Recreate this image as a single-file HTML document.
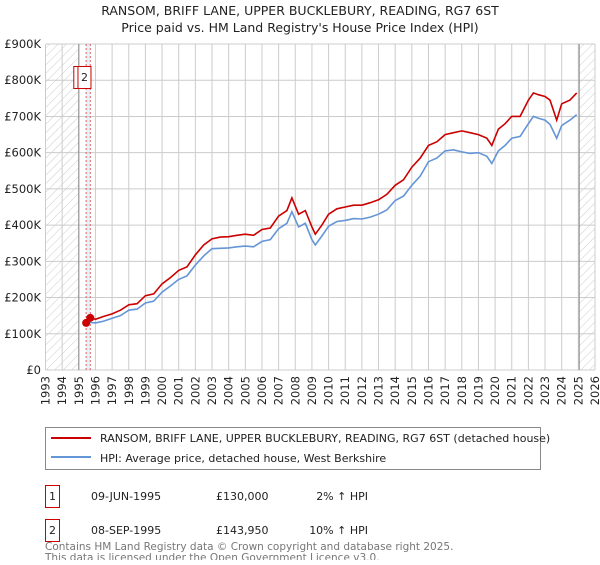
<!DOCTYPE html>
<html><head><meta charset="utf-8"><style>
body{margin:0;width:600px;height:560px;background:#fff;font-family:"Liberation Sans","DejaVu Sans",sans-serif;overflow:hidden}
svg text{font-family:"DejaVu Sans","Liberation Sans",sans-serif}
</style></head><body>
<svg id="c" width="600" height="560" xmlns="http://www.w3.org/2000/svg">
<defs><pattern id="hatch" width="6" height="6" patternUnits="userSpaceOnUse" patternTransform="rotate(45)"><line x1="0" y1="0" x2="0" y2="6" stroke="#ccc" stroke-width="1"/></pattern></defs>
<text x="300" y="15" text-anchor="middle" font-size="12.5" fill="#222">RANSOM, BRIFF LANE, UPPER BUCKLEBURY, READING, RG7 6ST</text>
<text x="300" y="32" text-anchor="middle" font-size="12.5" fill="#222">Price paid vs. HM Land Registry's House Price Index (HPI)</text>
<g id="grid"></g><g id="marks"></g><g id="axes"></g>
<g>
<rect x="45.5" y="427.5" width="495" height="42" fill="#fff" stroke="#888"/>
<line x1="51" y1="438" x2="91" y2="438" stroke="#cc0000" stroke-width="2"/>
<text x="100" y="442" font-size="11" fill="#222">RANSOM, BRIFF LANE, UPPER BUCKLEBURY, READING, RG7 6ST (detached house)</text>
<line x1="51" y1="457" x2="91" y2="457" stroke="#6495d6" stroke-width="2"/>
<text x="100" y="462" font-size="11" fill="#222">HPI: Average price, detached house, West Berkshire</text>
</g>
<g font-size="11" fill="#222">
<rect x="45.5" y="485.5" width="14" height="22" fill="none" stroke="#cc0000"/>
<text x="52.5" y="500" text-anchor="middle">1</text>
<text x="91" y="500">09-JUN-1995</text>
<text x="216" y="500">£130,000</text>
<text x="368" y="500" text-anchor="end">2% ↑ HPI</text>
<rect x="45.5" y="519.5" width="14" height="22" fill="none" stroke="#cc0000"/>
<text x="52.5" y="534" text-anchor="middle">2</text>
<text x="91" y="534">08-SEP-1995</text>
<text x="216" y="534">£143,950</text>
<text x="368" y="534" text-anchor="end">10% ↑ HPI</text>
</g>
<text x="45" y="550" font-size="10.5" fill="#777">Contains HM Land Registry data © Crown copyright and database right 2025.</text>
<text x="45" y="561" font-size="10.5" fill="#777">This data is licensed under the Open Government Licence v3.0.</text>
</svg>
<script>
const yearTicks=[1993,1994,1995,1996,1997,1998,1999,2000,2001,2002,2003,2004,2005,2006,2007,2008,2009,2010,2011,2012,2013,2014,2015,2016,2017,2018,2019,2020,2021,2022,2023,2024,2025,2026];
const priceTicks=[0,100,200,300,400,500,600,700,800,900];
const priceLabels=["£0","£100K","£200K","£300K","£400K","£500K","£600K","£700K","£800K","£900K"];
const dates=[1995.4,1995.7,1996,1996.5,1997,1997.5,1998,1998.5,1999,1999.5,2000,2000.5,2001,2001.5,2002,2002.5,2003,2003.5,2004,2004.5,2005,2005.5,2006,2006.5,2007,2007.5,2007.8,2008.2,2008.6,2009,2009.2,2009.6,2010,2010.5,2011,2011.5,2012,2012.5,2013,2013.5,2014,2014.5,2015,2015.5,2016,2016.5,2017,2017.5,2018,2018.5,2019,2019.5,2019.8,2020.2,2020.6,2021,2021.5,2022,2022.3,2022.6,2023,2023.3,2023.7,2024,2024.5,2024.9];
const propertyValues=[132,144,140,148,155,165,180,183,205,210,238,255,275,285,318,345,362,367,368,372,375,372,388,392,425,440,475,430,440,395,375,400,430,445,450,455,455,462,470,485,510,525,560,585,620,630,650,655,660,655,650,640,620,665,680,700,700,745,765,760,755,745,690,735,745,765];
const hpiValues=[129,131,130,135,143,150,165,168,185,190,215,232,250,260,290,315,335,336,337,340,342,340,355,360,390,405,437,395,405,360,345,370,397,410,413,418,417,422,430,442,468,480,510,535,575,585,605,608,602,598,600,590,570,605,620,640,645,680,700,695,690,678,640,675,690,705];
const sales=[[1995.44,130],[1995.69,143.95]];
const ns="http://www.w3.org/2000/svg";
const X0=45.5,X1=595,Y0=370,Y1=44;
const xS=y=>X0+(y-1993)*(X1-X0)/33;
const yS=v=>Y0-v*(Y0-Y1)/900;
function mk(t,a,p){const e=document.createElementNS(ns,t);for(const k in a)e.setAttribute(k,a[k]);p.appendChild(e);return e;}
const grid=document.getElementById('grid'),marks=document.getElementById('marks'),axes=document.getElementById('axes');
let r=mk('rect',{x:X0,y:Y1,width:xS(1995)-X0,height:Y0-Y1,fill:'url(#hatch)'},grid);


r=mk('rect',{x:xS(2025.05),y:Y1,width:X1-xS(2025.05),height:Y0-Y1,fill:'url(#hatch)'},grid);


r=mk('rect',{x:xS(sales[0][0]),y:Y1,width:xS(sales[1][0])-xS(sales[0][0]),height:Y0-Y1,fill:'#e8f0fb'},grid);


yearTicks.forEach(yr=>{
 const l=mk('line',{x1:xS(yr),x2:xS(yr),y1:Y1,y2:Y0,stroke:'#ccc'},grid);
 
 
 const t=mk('text',{x:0,y:0,'font-size':'11.5',fill:'#222','text-anchor':'end',transform:`translate(${xS(yr)+4},376) rotate(-90)`},axes);
 t.textContent=yr;
 
 
});
priceTicks.forEach((v,i)=>{
 const l=mk('line',{x1:X0,x2:X1,y1:yS(v),y2:yS(v),stroke:'#ccc'},grid);
 
 
 const t=mk('text',{x:41,y:yS(v)+4,'font-size':'11.5',fill:'#222','text-anchor':'end'},axes);
 t.textContent=priceLabels[i];
 
 
});
let l=mk('line',{x1:xS(1995),x2:xS(1995),y1:Y1,y2:Y0,stroke:'#888'},grid);


l=mk('line',{x1:xS(2025.05),x2:xS(2025.05),y1:Y1,y2:Y0,stroke:'#888'},grid);


sales.forEach((s,i)=>{
 const d=mk('line',{x1:xS(s[0]),x2:xS(s[0]),y1:Y1,y2:Y0,stroke:'#e06060','stroke-dasharray':'2,2'},grid);
 
 
});
const pts=v=>dates.map((d,i)=>xS(d).toFixed(1)+','+yS(v[i]).toFixed(1)).join(' ');
let p=mk('polyline',{points:pts(hpiValues),fill:'none',stroke:'#6495d6','stroke-width':1.6},marks);


p=mk('polyline',{points:pts(propertyValues),fill:'none',stroke:'#cc0000','stroke-width':1.6},marks);


sales.forEach((s,i)=>{
 const c=mk('circle',{cx:xS(s[0]),cy:yS(s[1]),r:4,fill:'#cc0000'},marks);
 
 
});
[[1,sales[0][0]-0.35],[2,sales[1][0]-0.35]].forEach(([n,x])=>{
 const b=mk('rect',{x:xS(x)-7+0.5,y:66.5,width:13,height:22,fill:'#fff',stroke:'#cc0000'},marks);
 
 
 const t=mk('text',{x:xS(x),y:81,'font-size':'11',fill:'#222','text-anchor':'middle'},marks);
 t.textContent=n;
 
 
});
</script>
</body></html>
